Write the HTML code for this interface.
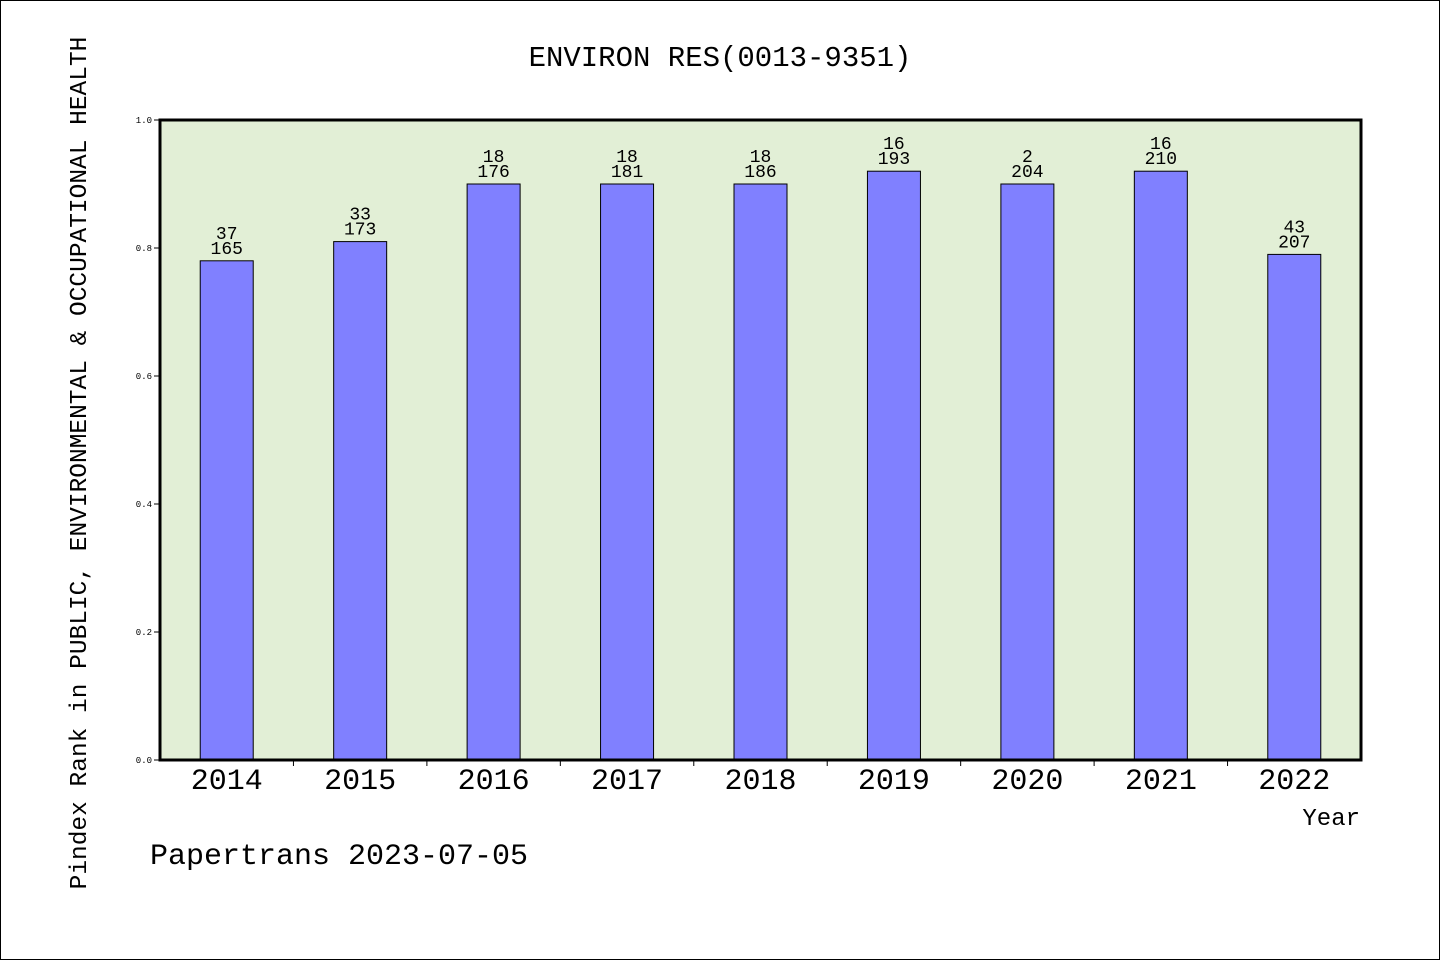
<!DOCTYPE html>
<html><head><meta charset="utf-8"><style>
body{margin:0;background:#fff}
svg{display:block;font-family:"Liberation Mono","WenQuanYi Zen Hei",monospace}
</style></head><body>
<svg id="c" width="1440" height="960">
<rect x="0.5" y="0.5" width="1439" height="959" fill="#fff" stroke="#000"/>
<text x="720" y="66" font-size="29" text-anchor="middle">ENVIRON RES(0013-9351)</text>
<rect x="160" y="120" width="1201" height="640" fill="#e2efd6"/>
<g id="bars"></g>
<rect x="160" y="120" width="1201" height="640" fill="none" stroke="#000" stroke-width="3"/>
<text transform="translate(86,463) rotate(-90)" font-size="24.5" text-anchor="middle">Pindex Rank in PUBLIC, ENVIRONMENTAL &amp; OCCUPATIONAL HEALTH</text>
<text x="1360" y="825" font-size="24" text-anchor="end">Year</text>
<text x="150" y="864" font-size="30">Papertrans 2023-07-05</text>
</svg>
<script>
const years=["2014","2015","2016","2017","2018","2019","2020","2021","2022"];
const values=[0.78,0.81,0.90,0.90,0.90,0.92,0.90,0.92,0.79];
const ranks=["37","33","18","18","18","16","2","16","43"];
const totals=["165","173","176","181","186","193","204","210","207"];
const yTicks=[0,0.2,0.4,0.6,0.8,1.0];
const NS="http://www.w3.org/2000/svg";
const X0=160,W=1201,Y0=760,H=640;
const slot=W/years.length;
const y=v=>Y0-v*H;
const g=document.getElementById('bars');
const svg=document.getElementById('c');
function mk(t,a,p){const e=document.createElementNS(NS,t);for(const k in a)e.setAttribute(k,a[k]);(p||g).appendChild(e);return e;}
yTicks.forEach(v=>{
 const l=mk('line',{x1:X0-6,x2:X0,y1:y(v),y2:y(v),stroke:'#000'});
 
 
 const t=mk('text',{x:X0-8,y:y(v)+3,'font-size':9,'text-anchor':'end'});
 t.textContent=v.toFixed(1);
 
 
});
years.forEach((yr,i)=>{
 const cx=X0+slot*(i+0.5);
 const b=mk('rect',{x:cx-26.5,y:y(values[i]),width:53,height:Y0-y(values[i]),fill:'#8080ff',stroke:'#000','stroke-width':1});
 
 
 const t1=mk('text',{x:cx,y:y(values[i])-22,'font-size':18,'text-anchor':'middle'});
 t1.textContent=ranks[i];
 
 
 const t2=mk('text',{x:cx,y:y(values[i])-7,'font-size':18,'text-anchor':'middle'});
 t2.textContent=totals[i];
 
 
 const xl=mk('text',{x:cx,y:789,'font-size':30,'text-anchor':'middle'},svg);
 xl.textContent=yr;
 
 
 if(i>0){const tk=mk('line',{x1:X0+slot*i,x2:X0+slot*i,y1:Y0,y2:Y0+6,stroke:'#000'},svg);
 
 }
});
</script>
</body></html>
